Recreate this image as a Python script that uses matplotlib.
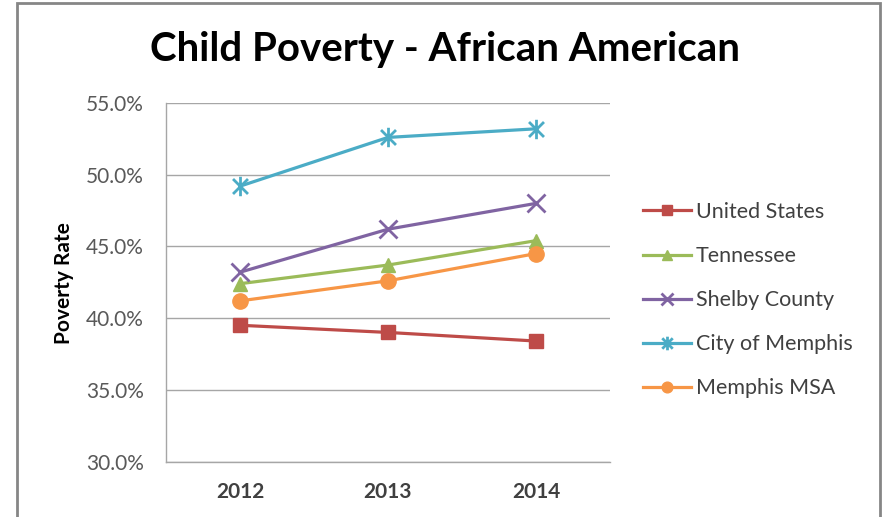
import matplotlib
matplotlib.use("Agg")
import matplotlib.pyplot as plt
from matplotlib.path import Path
from matplotlib.patches import Rectangle
from matplotlib.ticker import FuncFormatter

plt.rcParams['font.family'] = ['Lato', 'DejaVu Sans']

years = ["2012", "2013", "2014"]
united_states = [39.5, 39.0, 38.4]
tennessee = [42.4, 43.7, 45.4]
shelby_county = [43.2, 46.2, 48.0]
city_of_memphis = [49.2, 52.6, 53.2]
memphis_msa = [41.2, 42.6, 44.5]
y_ticks = [30, 35, 40, 45, 50, 55]

star = Path([(-1, -1), (1, 1), (-1, 1), (1, -1), (0, -1.3), (0, 1.3)],
            [Path.MOVETO, Path.LINETO, Path.MOVETO, Path.LINETO, Path.MOVETO, Path.LINETO])

series = [
    ("United States", united_states, "#BE4B48", "s", 10.5),
    ("Tennessee", tennessee, "#9BBB59", "^", 10),
    ("Shelby County", shelby_county, "#8064A2", "x", 13),
    ("City of Memphis", city_of_memphis, "#4BACC6", star, 14),
    ("Memphis MSA", memphis_msa, "#F79646", "o", 11),
]

fig = plt.figure(figsize=(8.86, 5.17), dpi=100)
ax = fig.add_axes([166/886, 1-461.5/517, (610-166)/886, (461.5-103)/517])

x = list(range(len(years)))
for name, vals, col, mk, ms in series:
    filled = mk in ("s", "^", "o")
    ax.plot(x, vals, color=col, lw=2.3, marker=mk, ms=ms,
            mfc=col, mec=col, mew=2.0 if not filled else 1.0, label=name)

ax.set_xlim(-0.5, 2.5)
ax.set_ylim(30, 55)
ax.set_yticks(y_ticks)
ax.yaxis.set_major_formatter(FuncFormatter(lambda v, p: f"{v:.1f}%"))
ax.set_xticks(x)
ax.set_xticklabels(years, fontweight="bold", fontsize=15, color="#404040")
ax.tick_params(axis="y", length=0, pad=16, labelsize=15, labelcolor="#595959")
ax.tick_params(axis="x", length=0, pad=15)
ax.grid(axis="y", color="#A6A6A6", lw=1)
ax.set_axisbelow(True)
for s in ("top", "right"):
    ax.spines[s].set_visible(False)
for s in ("left", "bottom"):
    ax.spines[s].set_color("#A6A6A6")
    ax.spines[s].set_linewidth(1)

fig.text(445/886, 1-50/517, "Child Poverty - African American", ha="center", va="center",
         fontsize=29, fontweight="bold", color="#000000")
fig.text(64/886, 1-283/517, "Poverty Rate", rotation=90, ha="center", va="center",
         fontsize=15, fontweight="bold", color="#000000")

leg = fig.legend(loc="upper left", bbox_to_anchor=(643/886, 1-202/517), frameon=False,
                 fontsize=15.5, handlelength=2.25, handletextpad=0.2, labelspacing=1.12,
                 borderpad=0, borderaxespad=0, markerscale=0.7)
for t in leg.get_texts():
    t.set_color("#404040")

fig.patches.append(Rectangle((17/886, -0.05), (880-17)/886, 1.05-3/517, transform=fig.transFigure,
                             fill=False, edgecolor="#868686", lw=2, figure=fig))

fig.savefig("out.png", dpi=100)
